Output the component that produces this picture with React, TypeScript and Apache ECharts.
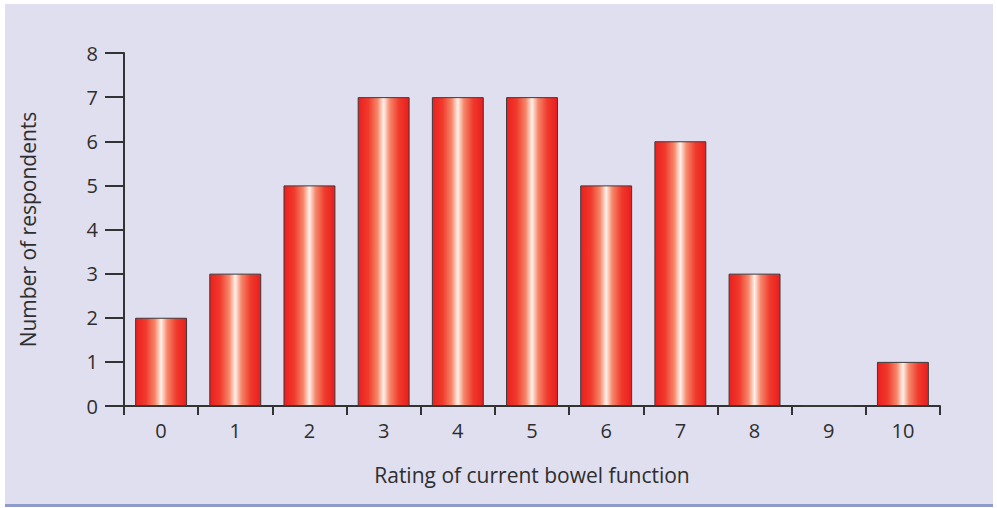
import React, { useEffect, useRef } from "react";
import * as echarts from "echarts";

const categories = ["0", "1", "2", "3", "4", "5", "6", "7", "8", "9", "10"];
const respondents = [2, 3, 5, 7, 7, 7, 5, 6, 3, 0, 1];
const xAxisTitle = "Rating of current bowel function";
const yAxisTitle = "Number of respondents";

export default function App() {
  const ref = useRef<HTMLDivElement>(null);
  useEffect(() => {
    document.body.style.margin = "0";
    const chart = echarts.init(ref.current!, undefined, { renderer: "svg" });
    const font = "Open Sans";
    const barGradient = new echarts.graphic.LinearGradient(0, 0, 1, 0, [
      { offset: 0, color: "#ec1f1f" },
      { offset: 0.2, color: "#f03a2c" },
      { offset: 0.38, color: "#f6876a" },
      { offset: 0.5, color: "#fff1ea" },
      { offset: 0.62, color: "#f6876a" },
      { offset: 0.8, color: "#f03a2c" },
      { offset: 1, color: "#ea1d1d" },
    ]);
    chart.setOption({
      animation: false,
      graphic: [
        {
          type: "rect",
          z: -10,
          silent: true,
          shape: { x: 5, y: 4, width: 988, height: 500 },
          style: { fill: "#dfdff0" },
        },
        {
          type: "rect",
          z: -9,
          silent: true,
          shape: { x: 5, y: 504, width: 988, height: 3 },
          style: { fill: "#8f9ccb" },
        },
      ],
      grid: { left: 124, right: 57, top: 53, bottom: 102 },
      xAxis: {
        type: "category",
        data: categories,
        boundaryGap: true,
        name: xAxisTitle,
        nameLocation: "middle",
        nameGap: 58,
        nameTextStyle: { fontFamily: font, fontSize: 21, color: "#2e2e2e" },
        axisLine: { lineStyle: { color: "#333", width: 2 } },
        axisTick: { show: true, length: 9, alignWithLabel: false, lineStyle: { color: "#333", width: 2 } },
        axisLabel: { fontFamily: font, fontSize: 20, color: "#2e2e2e", margin: 14 },
      },
      yAxis: {
        type: "value",
        min: 0,
        max: 8,
        interval: 1,
        name: yAxisTitle,
        nameLocation: "middle",
        nameGap: 86,
        nameTextStyle: { fontFamily: font, fontSize: 21, color: "#2e2e2e" },
        splitLine: { show: false },
        axisLine: { show: true, lineStyle: { color: "#333", width: 2 } },
        axisTick: { show: true, length: 19, lineStyle: { color: "#333", width: 2 } },
        axisLabel: { fontFamily: font, fontSize: 20, color: "#2e2e2e", margin: 26 },
      },
      series: [
        {
          type: "bar",
          data: respondents,
          barCategoryGap: "30%",
          itemStyle: { color: barGradient, borderColor: "#3a3a3a", borderWidth: 1 },
        },
      ],
    });
    return () => chart.dispose();
  }, []);
  return <div ref={ref} style={{ width: 997, height: 508 }} />;
}
